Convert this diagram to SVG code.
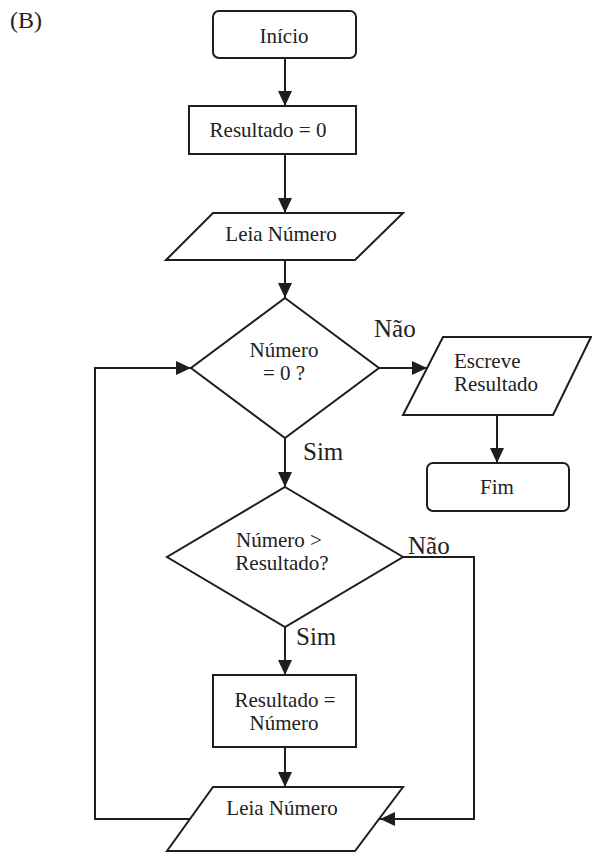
<svg xmlns="http://www.w3.org/2000/svg" width="592" height="852" viewBox="0 0 592 852">
<defs>
<marker id="ah" markerUnits="userSpaceOnUse" markerWidth="16" markerHeight="14" refX="15" refY="7" orient="auto">
<path d="M0,0 L15,7 L0,14 Z" fill="#1e1e1e"/>
</marker>
<style>
.s{fill:#fff;stroke:#1e1e1e;stroke-width:2}
.c{fill:none;stroke:#1e1e1e;stroke-width:2}
.t{font-family:"Liberation Serif","Times New Roman",serif;font-size:21px;fill:#222;text-anchor:middle}
.l{font-family:"Liberation Serif","Times New Roman",serif;font-size:25px;fill:#222}
.b{font-family:"Liberation Serif","Times New Roman",serif;font-size:24px;fill:#222}
</style>
</defs>
<rect width="592" height="852" fill="#fff"/>
<text class="b" x="10" y="28">(B)</text>
<g id="connectors">
<line class="c" x1="285" y1="58" x2="285" y2="106" marker-end="url(#ah)"/>
<line class="c" x1="285" y1="154" x2="285" y2="213" marker-end="url(#ah)"/>
<line class="c" x1="285" y1="260" x2="285" y2="298" marker-end="url(#ah)"/>
<line class="c" x1="379" y1="368" x2="427" y2="368" marker-end="url(#ah)"/>
<line class="c" x1="497" y1="415" x2="497" y2="463" marker-end="url(#ah)"/>
<line class="c" x1="285" y1="438" x2="285" y2="487" marker-end="url(#ah)"/>
<line class="c" x1="285" y1="627" x2="285" y2="675" marker-end="url(#ah)"/>
<line class="c" x1="285" y1="747" x2="285" y2="787" marker-end="url(#ah)"/>
<polyline class="c" points="403,557 474,557 474,819 380,819" marker-end="url(#ah)"/>
<polyline class="c" points="190,819 95,819 95,368 191,368" marker-end="url(#ah)"/>
<text class="l" x="374" y="337">Não</text>
<text class="l" x="303" y="460">Sim</text>
<text class="l" x="408" y="554">Não</text>
<text class="l" x="296" y="645">Sim</text>
</g>
<g id="inicio">
<rect class="s" x="213" y="11" width="143" height="47" rx="6"/>
<text class="t" x="284" y="43">Início</text>
</g>
<g id="resultado0">
<rect class="s" x="189" y="106" width="167" height="48"/>
<text class="t" x="268" y="137">Resultado = 0</text>
</g>
<g id="leia1">
<polygon class="s" points="213,213 403,213 355,260 166,260"/>
<text class="t" x="281" y="241">Leia Número</text>
</g>
<g id="decisao1">
<polygon class="s" points="285,298 379,368 285,438 191,368"/>
<text class="t" x="284" y="357">Número</text>
<text class="t" x="284" y="380">= 0 ?</text>
</g>
<g id="escreve">
<polygon class="s" points="443,337 591,337 553,415 403,415"/>
<text class="t" x="454" y="368" style="text-anchor:start">Escreve</text>
<text class="t" x="454" y="391" style="text-anchor:start">Resultado</text>
</g>
<g id="fim">
<rect class="s" x="427" y="463" width="142" height="48" rx="6"/>
<text class="t" x="497" y="494">Fim</text>
</g>
<g id="decisao2">
<polygon class="s" points="285,487 403,557 285,627 167,557"/>
<text class="t" x="279" y="547">Número &gt;</text>
<text class="t" x="282" y="570">Resultado?</text>
</g>
<g id="atribui">
<rect class="s" x="213" y="675" width="143" height="72"/>
<text class="t" x="285" y="707">Resultado =</text>
<text class="t" x="284" y="730">Número</text>
</g>
<g id="leia2">
<polygon class="s" points="213,787 403,787 355,851 167,851"/>
<text class="t" x="282" y="815">Leia Número</text>
</g>
</svg>
